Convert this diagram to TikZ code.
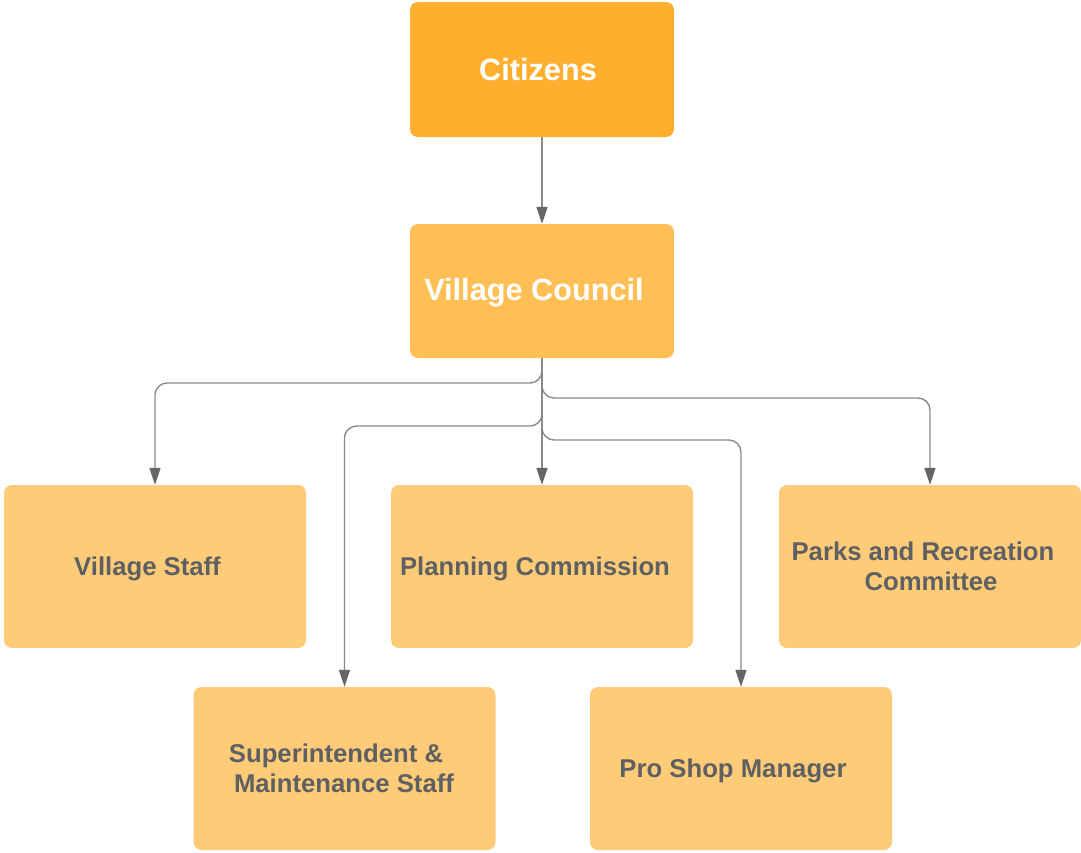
\documentclass[tikz,border=0pt]{standalone}
\usepackage{fontspec}
\setmainfont{Liberation Sans}
\usetikzlibrary{arrows.meta}
\definecolor{topc}{HTML}{FFAF2D}
\definecolor{midc}{HTML}{FFBF55}
\definecolor{lowc}{HTML}{FECB78}
\definecolor{txtc}{HTML}{5F6062}
\definecolor{linec}{HTML}{8A8A8A}
\definecolor{tipc}{HTML}{666666}
\begin{document}
\begin{tikzpicture}[x=1pt,y=-1pt,
  box/.style={rounded corners=8pt, minimum width=#1, inner sep=0pt},
  boxa/.style={box=264pt, minimum height=135pt, fill=topc},
  boxb/.style={box=264pt, minimum height=134pt, fill=midc},
  boxc/.style={box=302pt, minimum height=163pt, fill=lowc},
  biglbl/.style={inner sep=0pt, align=center, text=white, font=\bfseries\fontsize{30.7}{36}\selectfont},
  lbl/.style={inner sep=0pt, align=center, text=txtc, font=\bfseries\fontsize{25.7}{30}\selectfont},
  conn/.style={draw=linec, line width=1.4pt, rounded corners=12pt, -{Triangle[width=11pt,length=17pt,fill=tipc,color=tipc]}}
]
\useasboundingbox (0,0) rectangle (1081,852);
\node[boxa] (cit) at (542,69.5) {};
\node[boxb] (vc) at (542,291) {};
\node[boxc] (vs) at (155,566.5) {};
\node[boxc] (pc) at (542,566.5) {};
\node[boxc] (pr) at (930,566.5) {};
\node[boxc] (si) at (344.5,768.5) {};
\node[boxc] (ps) at (741,768.5) {};
\node[biglbl] (citl) at (538,69.5) {Citizens};
\node[biglbl] (vcl) at (534,293) {Village Council};
\node[lbl] (vsl) at (147.5,568.5) {Village Staff};
\node[lbl] (pcl) at (535,568.5) {Planning Commission};
\node[lbl] (prl) at (927,566.5) {\hspace*{-8pt}Parks and Recreation\\\hspace*{8pt}Committee};
\node[lbl] (sil) at (341,768.5) {\hspace*{-10pt}Superintendent \&\\\hspace*{6pt}Maintenance Staff};
\node[lbl] (psl) at (733,770.5) {Pro Shop Manager};
\draw[conn] (cit.south) -- (vc.north);
\draw[conn] (vc.south) -- (pc.north);
\draw[conn] (vc.south) -- (542,383) -| (vs.north);
\draw[conn] (vc.south) -- (542,398) -| (pr.north);
\draw[conn] (vc.south) -- (542,426) -| (si.north);
\draw[conn] (vc.south) -- (542,440) -| (ps.north);
\end{tikzpicture}
\end{document}
